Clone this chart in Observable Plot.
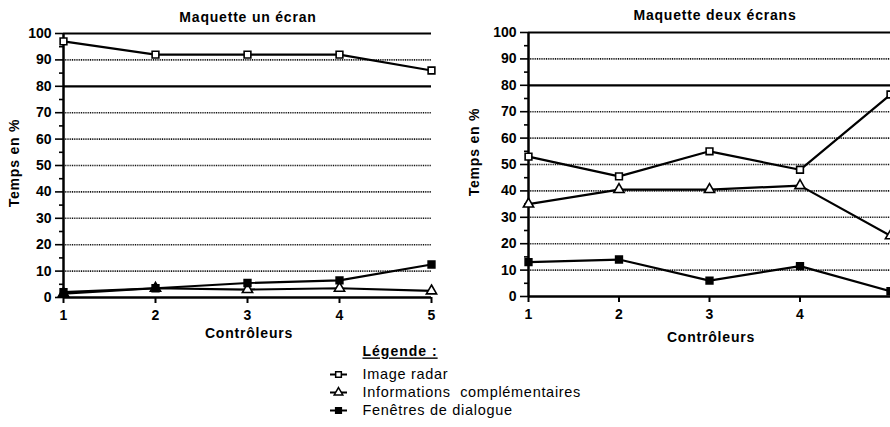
<!DOCTYPE html>
<html><head><meta charset="utf-8">
<script src="https://cdn.jsdelivr.net/npm/d3@7"></script>
<script src="https://cdn.jsdelivr.net/npm/@observablehq/plot@0.6"></script>
<style>
html,body{margin:0;padding:0;background:#fff;overflow:hidden;width:890px;height:427px;}
body{position:relative;font-family:"Liberation Sans",Arial,sans-serif;color:#000;}
.abs{position:absolute;}
.lbl{font-weight:bold;font-size:14px;letter-spacing:0.8px;white-space:nowrap;line-height:16px;}
.title,.xlab{transform:translate(-50%,-50%);}
.ylab{transform:translate(-50%,-50%) rotate(-90deg);}
#legend text{letter-spacing:0.7px;}
#legend text.hdr{letter-spacing:1px;}
</style></head>
<body>
<div id="left" class="abs" style="left:0;top:0"></div>
<div id="right" class="abs" style="left:440px;top:0"></div>
<div class="abs lbl title" style="left:248px;top:17px">Maquette un écran</div>
<div class="abs lbl title" style="left:715px;top:15px">Maquette deux écrans</div>
<div class="abs lbl xlab" style="left:249px;top:333px">Contrôleurs</div>
<div class="abs lbl xlab" style="left:711px;top:337px">Contrôleurs</div>
<div class="abs lbl ylab" style="left:14px;top:163px">Temps en %</div>
<div class="abs lbl ylab" style="left:474px;top:152px">Temps en %</div>
<div id="legend" class="abs" style="left:320px;top:339px"></div>
<script>
const controleurs = [1, 2, 3, 4, 5];
const series = ["Image radar", "Informations  complémentaires", "Fenêtres de dialogue"];
const symbols = ["square", "triangle", "square"];
const fills = ["white", "white", "black"];
// Maquette un écran
const unRadar = [97, 92, 92, 92, 86];
const unInfo = [1.5, 3.5, 3, 3.5, 2.5];
const unFen = [2, 3.5, 5.5, 6.5, 12.5];
// Maquette deux écrans
const deuxRadar = [53, 45.5, 55, 48, 76.5];
const deuxInfo = [35, 40.5, 40.5, 42, 23];
const deuxFen = [13, 14, 6, 11.5, 2];
const yTicks = [0, 10, 20, 30, 40, 50, 60, 70, 80, 90, 100];
const yMinor = [5, 15, 25, 35, 45, 55, 65, 75, 85, 95];
const solidGrid = [80, 100];
const dottedGrid = [10, 20, 30, 40, 50, 60, 70, 90];

function rows(vals) {
  const out = [];
  vals.forEach((arr, s) => arr.forEach((v, i) => out.push({x: controleurs[i], y: v, s})));
  return out;
}

function chart(vals, opts) {
  const data = rows(vals);
  return Plot.plot({
    width: 450, height: 345,
    marginLeft: opts.ml, marginRight: opts.mr, marginTop: opts.mt, marginBottom: opts.mb,
    style: {fontFamily: "Liberation Sans, Arial, sans-serif", fontSize: "14px", fontWeight: "bold", color: "#000", overflow: "visible"},
    x: {domain: [1, 5]},
    y: {domain: [0, 100]},
    marks: [
      Plot.ruleY(dottedGrid, {stroke: "#111", strokeWidth: 1.6, strokeDasharray: "1,0.8"}),
      Plot.ruleY(solidGrid, {stroke: "#000", strokeWidth: 2.2}),
      Plot.axisY(yMinor, {tickSize: 4, label: null, tickFormat: () => "", strokeWidth: 1.6}),
      Plot.axisY(yTicks, {tickSize: 8, tickPadding: 4, label: null, strokeWidth: 1.6, fontSize: 14, fontWeight: "bold"}),
      Plot.axisX(opts.xticks, {tickSize: 6, tickPadding: 7, label: null, strokeWidth: 2, fontSize: 14, fontWeight: "bold"}),
      Plot.ruleX([1], {stroke: "#000", strokeWidth: 2.5}),
      Plot.ruleY([0], {stroke: "#000", strokeWidth: 2.5}),
      Plot.line(data, {x: "x", y: "y", z: "s", stroke: "#000", strokeWidth: 2.2}),
      Plot.dot(data, {x: "x", y: "y", symbol: d => symbols[d.s], fill: d => fills[d.s], stroke: "#000", strokeWidth: 1.6, r: 3.8})
    ]
  });
}

document.getElementById("left").append(chart([unRadar, unInfo, unFen], {ml: 63, mr: 19, mt: 33, mb: 48, xticks: [1, 2, 3, 4, 5]}));
document.getElementById("right").append(chart([deuxRadar, deuxInfo, deuxFen], {ml: 88, mr: 0, mt: 32, mb: 49, xticks: [1, 2, 3, 4]}));

const legendRows = series.map((name, s) => ({name, s}));
const legend = Plot.plot({
  width: 300, height: 82,
  marginLeft: 10, marginRight: 0, marginTop: 26, marginBottom: 2,
  style: {fontFamily: "Liberation Sans, Arial, sans-serif", fontSize: "14px", color: "#000", overflow: "visible"},
  x: {type: "identity", axis: null},
  y: {type: "band", domain: series, axis: null, padding: 0},
  marks: [
    Plot.text(["Légende :"], {frameAnchor: "top-left", dx: 32, dy: -19, fontSize: 14, fontWeight: "bold"}),
    Plot.ruleY(legendRows, {y: "name", x1: 10, x2: 27, stroke: "#000", strokeWidth: 2}),
    Plot.dot(legendRows, {y: "name", x: 18, symbol: d => symbols[d.s], fill: d => fills[d.s], stroke: "#000", strokeWidth: 1.5, r: 3.2}),
    Plot.text(legendRows, {y: "name", x: 42, text: "name", textAnchor: "start", fontSize: 14.5})
  ]
});
legend.querySelectorAll("text").forEach(t => {
  if (t.textContent === "Légende :") { t.setAttribute("text-decoration", "underline"); t.setAttribute("class", "hdr"); }
});
document.getElementById("legend").append(legend);
</script>
</body></html>
